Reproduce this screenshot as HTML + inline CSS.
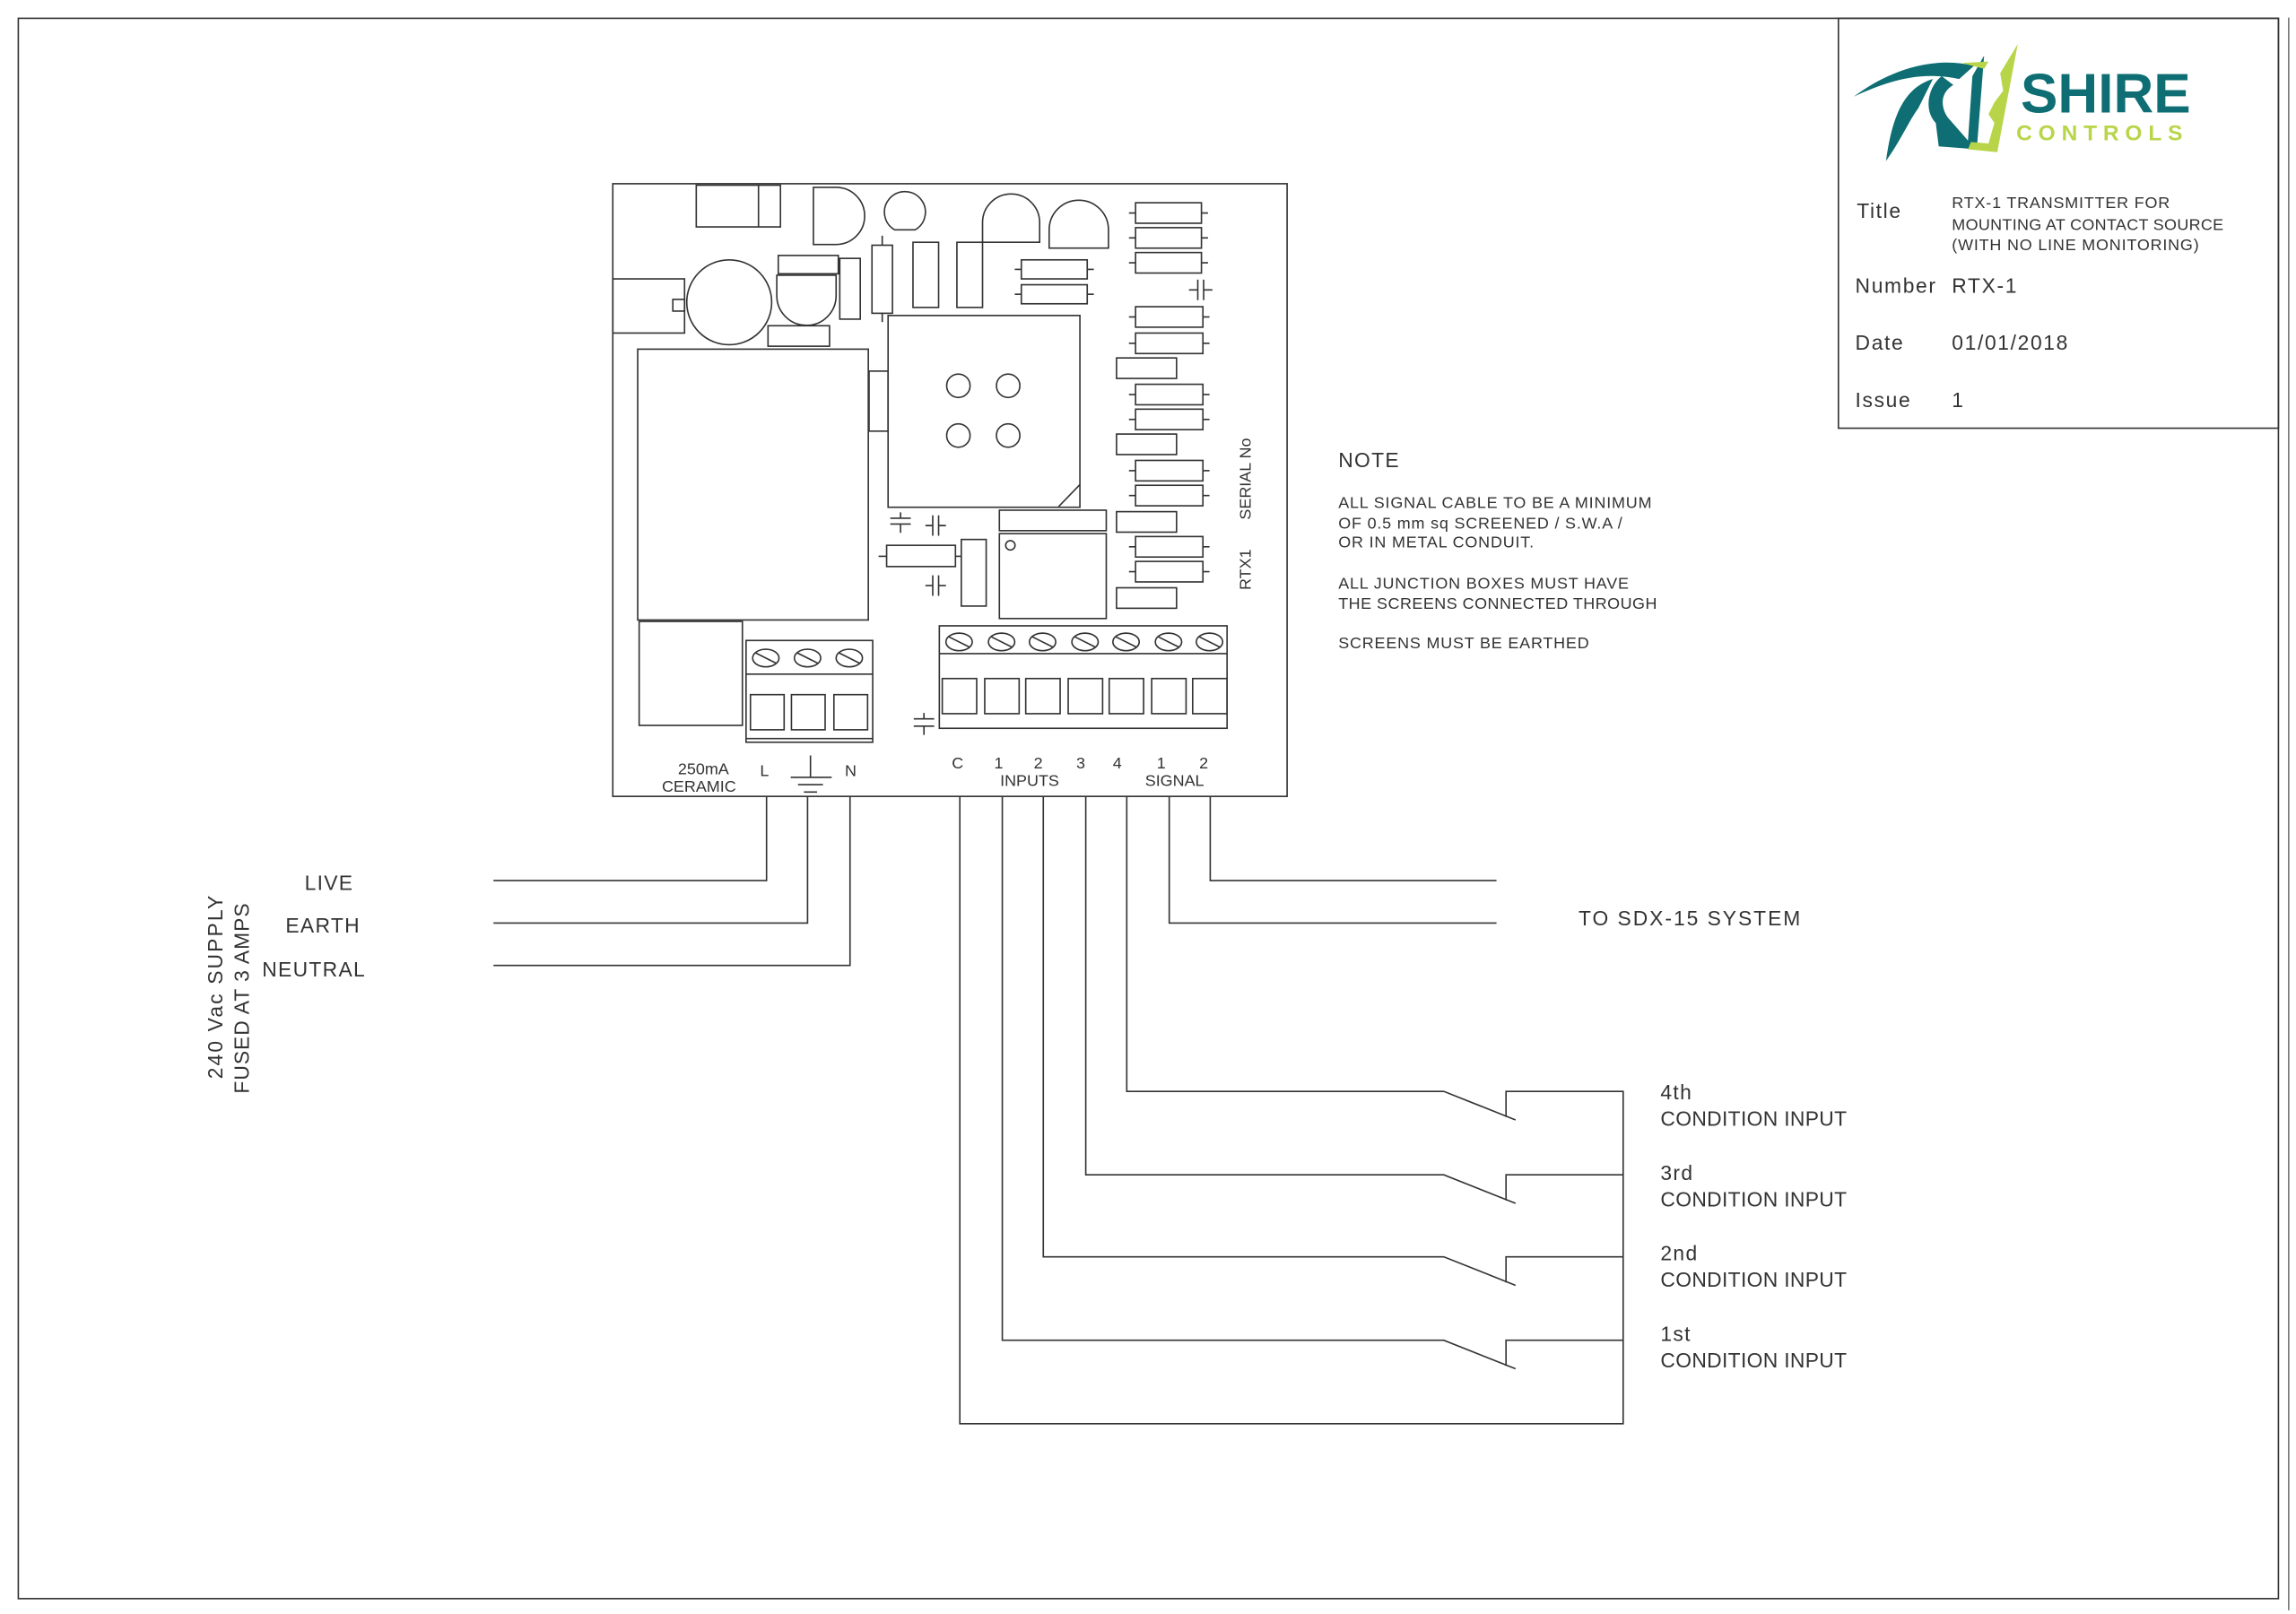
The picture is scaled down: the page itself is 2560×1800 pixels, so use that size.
<!DOCTYPE html>
<html><head><meta charset="utf-8"><style>
html,body{margin:0;padding:0;background:#fff;}
svg{display:block;}
text{font-family:"Liberation Sans Narrow","Liberation Sans",sans-serif;fill:#333;}
</style></head><body>
<svg width="2560" height="1800" viewBox="0 0 1568 1102.5" preserveAspectRatio="none" xmlns="http://www.w3.org/2000/svg">
<g fill="none" stroke="#333" stroke-width="1">
<rect x="12.5" y="12.5" width="1543.5" height="1079.5"/>
<line x1="1563" y1="12" x2="1563" y2="1100" stroke="#777"/>
<rect x="1255.5" y="12.5" width="300.5" height="280"/>
<rect x="418.5" y="125.5" width="460.5" height="418.5"/>
<rect x="475.5" y="126.5" width="57.5" height="28.5"/><line x1="518" y1="126.5" x2="518" y2="155"/>
<path d="M555.5 128 L571 128 A19 19 0 0 1 571 167 L555.5 167 Z"/>
<path d="M611 157 A14 14 0 1 1 625 157 Z"/>
<rect x="531.5" y="174.5" width="41" height="12.5"/>
<path d="M530.5 188 L571 188 L571 202 A20 20 0 0 1 530.5 202 Z"/>
<rect x="573.5" y="176.5" width="14" height="41.5"/>
<rect x="595.5" y="167.5" width="14" height="46.5"/><line x1="602.5" y1="161" x2="602.5" y2="167.5"/><line x1="602.5" y1="214" x2="602.5" y2="220"/>
<rect x="623.5" y="165.5" width="17.5" height="44.5"/>
<rect x="653.5" y="165.5" width="17.5" height="44.5"/>
<path d="M671 165.5 L710 165.5 L710 152 A19.5 19.5 0 0 0 671 152 Z"/>
<path d="M716.5 169.5 L757 169.5 L757 157 A20 20 0 0 0 716.5 157 Z"/>
<g>
<rect x="775.5" y="138.5" width="45" height="14"/><line x1="771" y1="145.5" x2="775.5" y2="145.5"/><line x1="820.5" y1="145.5" x2="825" y2="145.5"/>
<rect x="775.5" y="155.5" width="45" height="14"/><line x1="771" y1="162.5" x2="775.5" y2="162.5"/><line x1="820.5" y1="162.5" x2="825" y2="162.5"/>
<rect x="775.5" y="172.5" width="45" height="14"/><line x1="771" y1="179.5" x2="775.5" y2="179.5"/><line x1="820.5" y1="179.5" x2="825" y2="179.5"/>
<rect x="697.5" y="177.5" width="45" height="13"/><line x1="693" y1="184" x2="697.5" y2="184"/><line x1="742.5" y1="184" x2="747" y2="184"/>
<rect x="697.5" y="194.5" width="45" height="13"/><line x1="693" y1="201" x2="697.5" y2="201"/><line x1="742.5" y1="201" x2="747" y2="201"/>
<rect x="775.5" y="209.5" width="46" height="14"/><line x1="771" y1="216.5" x2="775.5" y2="216.5"/><line x1="821.5" y1="216.5" x2="826" y2="216.5"/>
<rect x="775.5" y="227.5" width="46" height="14"/><line x1="771" y1="234.5" x2="775.5" y2="234.5"/><line x1="821.5" y1="234.5" x2="826" y2="234.5"/>
<rect x="762.5" y="244.5" width="41" height="14"/>
<rect x="775.5" y="262.5" width="46" height="14"/><line x1="771" y1="269.5" x2="775.5" y2="269.5"/><line x1="821.5" y1="269.5" x2="826" y2="269.5"/>
<rect x="775.5" y="279.5" width="46" height="14"/><line x1="771" y1="286.5" x2="775.5" y2="286.5"/><line x1="821.5" y1="286.5" x2="826" y2="286.5"/>
<rect x="762.5" y="296.5" width="41" height="14"/>
<rect x="775.5" y="314.5" width="46" height="14"/><line x1="771" y1="321.5" x2="775.5" y2="321.5"/><line x1="821.5" y1="321.5" x2="826" y2="321.5"/>
<rect x="775.5" y="331.5" width="46" height="14"/><line x1="771" y1="338.5" x2="775.5" y2="338.5"/><line x1="821.5" y1="338.5" x2="826" y2="338.5"/>
<rect x="762.5" y="349.5" width="41" height="14"/>
<rect x="775.5" y="366.5" width="46" height="14"/><line x1="771" y1="373.5" x2="775.5" y2="373.5"/><line x1="821.5" y1="373.5" x2="826" y2="373.5"/>
<rect x="775.5" y="383.5" width="46" height="14"/><line x1="771" y1="390.5" x2="775.5" y2="390.5"/><line x1="821.5" y1="390.5" x2="826" y2="390.5"/>
<rect x="762.5" y="401.5" width="41" height="14"/>
</g>
<path d="M818 191 V205 M822 191 V205 M812 198 H818 M822 198 H828"/>
<path d="M608 354 H622 M608 358 H622 M615 350 V354 M615 358 V364"/>
<path d="M637 352 V366 M641 352 V366 M632 359 H637 M641 359 H646"/>
<path d="M637 393 V407 M641 393 V407 M632 400 H637 M641 400 H646"/>
<path d="M624 491 H638 M624 496 H638 M631 487 V491 M631 496 V502"/>
<rect x="606.5" y="215.5" width="131" height="131"/><line x1="723" y1="346" x2="737.5" y2="331"/>
<circle cx="654.5" cy="263.5" r="8"/><circle cx="688.5" cy="263.5" r="8"/><circle cx="654.5" cy="297.5" r="8"/><circle cx="688.5" cy="297.5" r="8"/>
<rect x="593.5" y="253.5" width="13" height="41"/>
<rect x="418.5" y="190.5" width="49" height="37"/><rect x="459.5" y="204.5" width="8" height="8"/>
<circle cx="498" cy="206.5" r="29"/>
<rect x="524.5" y="222.5" width="42" height="14"/>
<rect x="435.5" y="238.5" width="157.5" height="185"/>
<rect x="436.5" y="424.5" width="70.5" height="71"/>
<rect x="605.5" y="372.5" width="47" height="14.5"/><line x1="600" y1="380" x2="605.5" y2="380"/><line x1="652.5" y1="380" x2="656" y2="380"/>
<rect x="656.5" y="368.5" width="17" height="45.5"/>
<rect x="682.5" y="348.5" width="73" height="14"/>
<rect x="682.5" y="364.5" width="73" height="58"/><circle cx="690" cy="372.5" r="3.2"/>
<rect x="509.5" y="437.5" width="86.5" height="69.5"/><line x1="509.5" y1="460.5" x2="596" y2="460.5"/><line x1="509.5" y1="504.5" x2="596" y2="504.5"/>
<ellipse cx="523" cy="449.5" rx="9" ry="6"/><line x1="516" y1="446" x2="530" y2="453"/>
<ellipse cx="551.5" cy="449.5" rx="9" ry="6"/><line x1="544.5" y1="446" x2="558.5" y2="453"/>
<ellipse cx="580" cy="449.5" rx="9" ry="6"/><line x1="573" y1="446" x2="587" y2="453"/>
<rect x="512.5" y="474.5" width="23" height="24"/><rect x="540.5" y="474.5" width="23" height="24"/><rect x="569.5" y="474.5" width="23" height="24"/>
<rect x="641.5" y="427.5" width="196.5" height="70"/><line x1="641.5" y1="446.5" x2="838" y2="446.5"/>
<g>
<ellipse cx="655" cy="438.5" rx="9" ry="6"/><line x1="648" y1="435" x2="662" y2="442"/>
<ellipse cx="684" cy="438.5" rx="9" ry="6"/><line x1="677" y1="435" x2="691" y2="442"/>
<ellipse cx="712" cy="438.5" rx="9" ry="6"/><line x1="705" y1="435" x2="719" y2="442"/>
<ellipse cx="741" cy="438.5" rx="9" ry="6"/><line x1="734" y1="435" x2="748" y2="442"/>
<ellipse cx="769" cy="438.5" rx="9" ry="6"/><line x1="762" y1="435" x2="776" y2="442"/>
<ellipse cx="798" cy="438.5" rx="9" ry="6"/><line x1="791" y1="435" x2="805" y2="442"/>
<ellipse cx="826" cy="438.5" rx="9" ry="6"/><line x1="819" y1="435" x2="833" y2="442"/>
</g>
<rect x="643.5" y="463.5" width="23.5" height="24"/><rect x="672.5" y="463.5" width="23.5" height="24"/><rect x="700.5" y="463.5" width="23.5" height="24"/><rect x="729.5" y="463.5" width="23.5" height="24"/><rect x="757.5" y="463.5" width="23.5" height="24"/><rect x="786.5" y="463.5" width="23.5" height="24"/><rect x="814.5" y="463.5" width="23.5" height="24"/>
<path d="M553.5 516 V531 M540 531 H568 M545 536 H562 M549 541 H558"/>
<path d="M523.5 544 V601.5 H337"/>
<path d="M551.5 544 V630.5 H337"/>
<path d="M580.5 544 V659.5 H337"/>
<path d="M826.5 544 V601.5 H1022"/>
<path d="M798.5 544 V630.5 H1022"/>
<path d="M769.5 544 V745.5 H986 L1035 765"/>
<path d="M741.5 544 V802.5 H986 L1035 822"/>
<path d="M712.5 544 V858.5 H986 L1035 878"/>
<path d="M684.5 544 V915.5 H986 L1035 935"/>
<path d="M655.5 544 V972.5 H1108.5 V745.5 H1028.5 V763"/>
<path d="M1108.5 802.5 H1028.5 V820"/>
<path d="M1108.5 858.5 H1028.5 V876"/>
<path d="M1108.5 915.5 H1028.5 V933"/>
</g>
<g font-size="11">
<text x="463" y="529">250mA</text><text x="452" y="541">CERAMIC</text>
<text x="519" y="530">L</text><text x="577" y="530">N</text>
<text x="650" y="525">C</text><text x="679" y="525">1</text><text x="706" y="525">2</text><text x="735" y="525">3</text><text x="760" y="525">4</text><text x="790" y="525">1</text><text x="819" y="525">2</text>
<text x="683" y="537">INPUTS</text><text x="782" y="537">SIGNAL</text>
<text transform="translate(854,355) rotate(-90)">SERIAL No</text>
<text transform="translate(854,403) rotate(-90)">RTX1</text>
</g>
<g font-size="14" letter-spacing="0.8">
<text x="208" y="608">LIVE</text><text x="195" y="637">EARTH</text><text x="179" y="667">NEUTRAL</text>
<text transform="translate(152,737) rotate(-90)" letter-spacing="1.3">240 Vac SUPPLY</text>
<text transform="translate(170,747) rotate(-90)" letter-spacing="0.6">FUSED AT 3 AMPS</text>
<text x="1078" y="632" letter-spacing="1.2">TO SDX-15 SYSTEM</text>
<text x="1134" y="751">4th</text><text x="1134" y="769" letter-spacing="0.2">CONDITION INPUT</text>
<text x="1134" y="806">3rd</text><text x="1134" y="824" letter-spacing="0.2">CONDITION INPUT</text>
<text x="1134" y="861">2nd</text><text x="1134" y="879" letter-spacing="0.2">CONDITION INPUT</text>
<text x="1134" y="916">1st</text><text x="1134" y="934" letter-spacing="0.2">CONDITION INPUT</text>
<text x="914" y="319">NOTE</text>
</g>
<g font-size="11" letter-spacing="0.5">
<text x="914" y="347">ALL SIGNAL CABLE TO BE A MINIMUM</text>
<text x="914" y="361">OF 0.5 mm sq SCREENED / S.W.A /</text>
<text x="914" y="374">OR IN METAL CONDUIT.</text>
<text x="914" y="402">ALL JUNCTION BOXES MUST HAVE</text>
<text x="914" y="416" letter-spacing="0.3">THE SCREENS CONNECTED THROUGH</text>
<text x="914" y="443">SCREENS MUST BE EARTHED</text>
<text x="1333" y="142">RTX-1 TRANSMITTER FOR</text>
<text x="1333" y="157" letter-spacing="0.2">MOUNTING AT CONTACT SOURCE</text>
<text x="1333" y="171">(WITH NO LINE MONITORING)</text>
</g>
<g font-size="14" letter-spacing="1">
<text x="1268" y="149">Title</text>
<text x="1267" y="200">Number</text><text x="1333" y="200">RTX-1</text>
<text x="1267" y="239">Date</text><text x="1333" y="239">01/01/2018</text>
<text x="1267" y="278">Issue</text><text x="1333" y="278">1</text>
</g>
<path d="M1266 66 C1290 48 1320 38 1348 45 L1338 54 C1310 48 1288 56 1266 66 Z" fill="#0e6e73"/>
<path d="M1355 38 L1350 102 L1324 100 L1322 84 C1314 76 1316 60 1326 52 L1334 58 C1324 64 1326 74 1330 80 L1344 96 L1347 52 Z" fill="#0e6e73"/>
<path d="M1320 54 C1300 60 1292 80 1288 110 C1298 96 1304 82 1310 74 Z" fill="#0e6e73"/>
<path d="M1340 43 L1358 42 L1355 47 Z" fill="#b8d54a"/>
<path d="M1378 30 L1364 104 L1344 102 L1346 97 L1358 98 L1362 84 L1358 78 L1362 70 L1368 62 L1366 50 L1372 40 Z" fill="#b8d54a"/>
<text x="1380" y="77" font-size="38" font-weight="bold" style="font-family:'Liberation Sans',sans-serif;fill:#0e6e73">SHIRE</text>
<text x="1377" y="96" font-size="15" font-weight="bold" letter-spacing="4.2" style="font-family:'Liberation Sans',sans-serif;fill:#b8d54a">CONTROLS</text>
</svg>
</body></html>
